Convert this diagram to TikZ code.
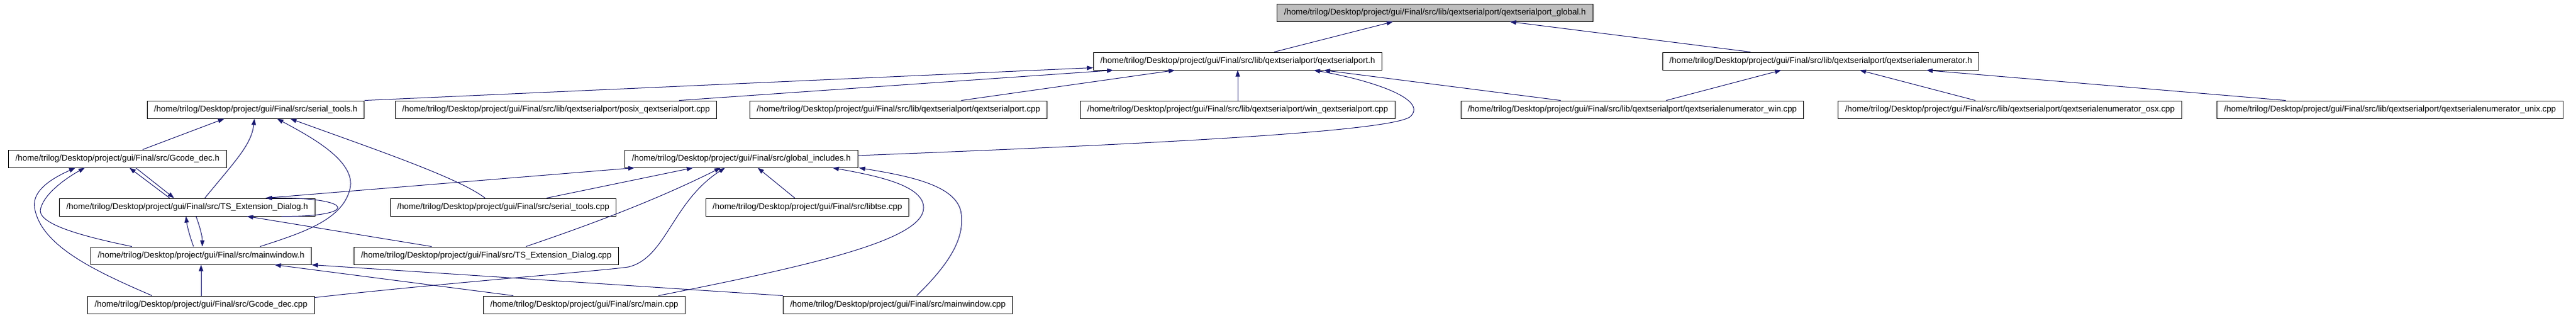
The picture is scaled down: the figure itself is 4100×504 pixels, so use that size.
\documentclass[tikz,border=0pt]{standalone}
\usepackage{fontspec}
\setmainfont{Liberation Sans}
\usetikzlibrary{arrows.meta}
\definecolor{edgeblue}{RGB}{25,25,112}
\definecolor{rootgray}{RGB}{191,191,191}

\begin{document}
\begin{tikzpicture}[x=1pt,y=-1pt]
\tikzstyle{every node}=[draw=black, line width=1pt, rectangle, minimum height=28pt, inner xsep=11pt, inner ysep=0pt, font=\fontsize{13.33}{16}\selectfont]
\tikzstyle{inc}=[edgeblue, line width=1pt, -{Triangle[length=10pt,width=7pt]}]
\useasboundingbox (0,0) rectangle (4100,504);
\draw (2284,20) node (glob) [fill=rootgray] {/home/trilog/Desktop/project/gui/Final/src/lib/qextserialport/qextserialport\_global.h};
\draw (1970,97) node (qsp) [] {/home/trilog/Desktop/project/gui/Final/src/lib/qextserialport/qextserialport.h};
\draw (2898,97) node (qse) [] {/home/trilog/Desktop/project/gui/Final/src/lib/qextserialport/qextserialenumerator.h};
\draw (407,174) node (stoolsh) [] {/home/trilog/Desktop/project/gui/Final/src/serial\_tools.h};
\draw (885,174) node (posix) [] {/home/trilog/Desktop/project/gui/Final/src/lib/qextserialport/posix\_qextserialport.cpp};
\draw (1430,174) node (qspcpp) [] {/home/trilog/Desktop/project/gui/Final/src/lib/qextserialport/qextserialport.cpp};
\draw (1970,174) node (win) [] {/home/trilog/Desktop/project/gui/Final/src/lib/qextserialport/win\_qextserialport.cpp};
\draw (2598,174) node (qsewin) [] {/home/trilog/Desktop/project/gui/Final/src/lib/qextserialport/qextserialenumerator\_win.cpp};
\draw (3199,174) node (qseosx) [] {/home/trilog/Desktop/project/gui/Final/src/lib/qextserialport/qextserialenumerator\_osx.cpp};
\draw (3804,174) node (qseunix) [] {/home/trilog/Desktop/project/gui/Final/src/lib/qextserialport/qextserialenumerator\_unix.cpp};
\draw (187,252) node (gcodeh) [] {/home/trilog/Desktop/project/gui/Final/src/Gcode\_dec.h};
\draw (1180,252) node (globinc) [] {/home/trilog/Desktop/project/gui/Final/src/global\_includes.h};
\draw (298,329) node (tsh) [] {/home/trilog/Desktop/project/gui/Final/src/TS\_Extension\_Dialog.h};
\draw (801,329) node (stcpp) [] {/home/trilog/Desktop/project/gui/Final/src/serial\_tools.cpp};
\draw (1285,329) node (libtse) [] {/home/trilog/Desktop/project/gui/Final/src/libtse.cpp};
\draw (320,406) node (mwh) [] {/home/trilog/Desktop/project/gui/Final/src/mainwindow.h};
\draw (774,406) node (tscpp) [] {/home/trilog/Desktop/project/gui/Final/src/TS\_Extension\_Dialog.cpp};
\draw (320,484) node (gcodecpp) [] {/home/trilog/Desktop/project/gui/Final/src/Gcode\_dec.cpp};
\draw (930,484) node (maincpp) [] {/home/trilog/Desktop/project/gui/Final/src/main.cpp};
\draw (1429,484) node (mwcpp) [] {/home/trilog/Desktop/project/gui/Final/src/mainwindow.cpp};
\draw[inc] ([xshift=58pt]qsp.north) -- ([xshift=-67pt]glob.south);
\draw[inc] ([xshift=-112pt]qse.north) -- ([xshift=119pt]glob.south);
\draw[inc] (stoolsh.north east) -- ([yshift=4pt]qsp.south west);
\draw[inc] ([xshift=196pt]posix.north) -- ([xshift=-198pt]qsp.south);
\draw[inc] ([xshift=100pt]qspcpp.north) -- ([xshift=-100pt]qsp.south);
\draw[inc] (win.north) -- (qsp.south);
\draw[inc] ([xshift=-114pt]qsewin.north) -- ([xshift=137pt]qsp.south);
\draw[inc] ([yshift=5pt]globinc.east) .. controls (1800,230) and (2215,210) .. (2245,185) .. controls (2275,155) and (2170,125) .. ([xshift=121pt]qsp.south);
\draw[inc] ([xshift=54pt]qsewin.north) -- ([xshift=-63pt]qse.south);
\draw[inc] ([xshift=-55pt]qseosx.north) -- ([xshift=62pt]qse.south);
\draw[inc] ([xshift=-166pt]qseunix.north) -- ([xshift=168pt]qse.south);
\draw[inc] ([xshift=40pt]gcodeh.north) -- ([xshift=-50pt]stoolsh.south);
\draw[inc] ([xshift=28pt]tsh.north) .. controls (375,255) and (400,230) .. ([xshift=-2pt]stoolsh.south);
\draw[inc] ([xshift=94pt]mwh.north) .. controls (480,370) and (545,350) .. (557,300) .. controls (568,255) and (490,215) .. ([xshift=34pt]stoolsh.south);
\draw[inc] ([xshift=-29pt]stcpp.north) .. controls (730,282) and (590,235) .. ([xshift=55pt]stoolsh.south);
\draw[inc] ([xshift=-28pt]tsh.north) -- ([xshift=19pt]gcodeh.south);
\draw[inc] ([xshift=29pt]gcodeh.south) -- ([xshift=-21pt]tsh.north);
\draw[inc] ([xshift=-110pt]mwh.north) .. controls (130,375) and (55,355) .. (65,330) .. controls (72,305) and (110,280) .. ([xshift=-52pt]gcodeh.south);
\draw[inc] ([xshift=-78pt]gcodecpp.north) .. controls (150,430) and (65,390) .. (55,330) .. controls (50,300) and (90,280) .. ([xshift=-67pt]gcodeh.south);
\draw[inc] ([xshift=-12pt]mwh.north) .. controls (302,375) and (298,360) .. ([xshift=-2pt]tsh.south);
\draw[inc] ([xshift=14pt]tsh.south) .. controls (318,360) and (322,375) .. ([xshift=2pt]mwh.north);
\draw[inc] ([xshift=-87pt]tscpp.north) -- ([xshift=95pt]tsh.south);
\draw[inc] ([xshift=150pt]tsh.south) .. controls (570,345) and (570,313) .. ([xshift=125pt]tsh.north);
\draw[inc] ([xshift=125pt]tsh.north) -- ([xshift=-170pt]globinc.south);
\draw[inc] ([xshift=69pt]stcpp.north) -- ([xshift=-77pt]globinc.south);
\draw[inc] ([xshift=63pt]tscpp.north) .. controls (930,360) and (1040,320) .. ([xshift=-33pt]globinc.south);
\draw[inc] ([yshift=-3pt]gcodecpp.north east) .. controls (700,450) and (960,430) .. (1000,424) .. controls (1060,410) and (1070,320) .. ([xshift=-26pt]globinc.south);
\draw[inc] ([xshift=-20pt]libtse.north) -- ([xshift=26pt]globinc.south);
\draw[inc] ([xshift=118pt]maincpp.north) .. controls (1300,420) and (1470,380) .. (1470,330) .. controls (1470,295) and (1400,280) .. ([xshift=145pt]globinc.south);
\draw[inc] ([xshift=30pt]mwcpp.north) .. controls (1510,420) and (1535,380) .. (1530,340) .. controls (1525,295) and (1450,280) .. ([xshift=187pt]globinc.south);
\draw[inc] ([xshift=-113pt]maincpp.north) -- ([xshift=117pt]mwh.south);
\draw[inc] (mwcpp.north west) -- (mwh.south east);
\draw[inc] (gcodecpp.north) -- (mwh.south);
\end{tikzpicture}
\end{document}
